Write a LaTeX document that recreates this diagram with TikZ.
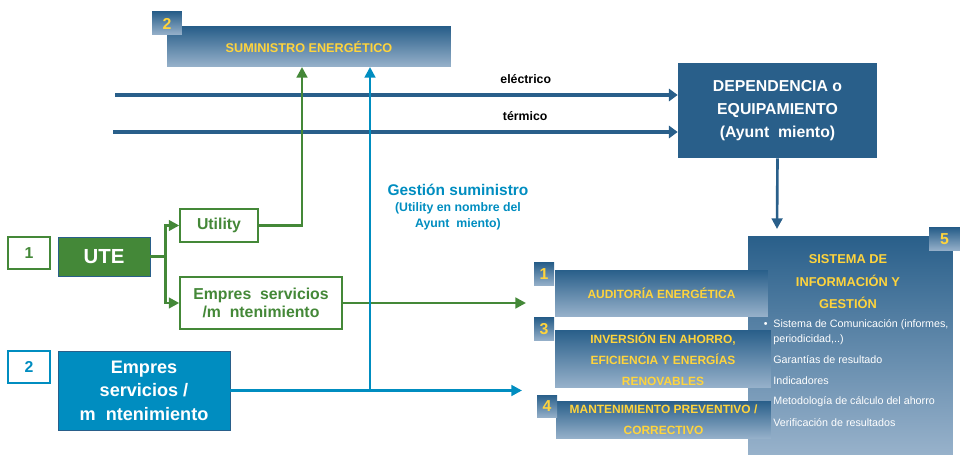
\documentclass[tikz,border=0pt]{standalone}
\usepackage{fontspec}
\setmainfont{Liberation Sans}
\usetikzlibrary{arrows.meta}

\definecolor{depblue}{RGB}{41,95,138}
\definecolor{lowblue}{RGB}{152,178,203}
\definecolor{gold}{RGB}{255,212,60}
\definecolor{utegreen}{RGB}{68,136,56}
\definecolor{empcyan}{RGB}{0,141,192}

\tikzset{
  fadebox/.style={top color=depblue, bottom color=lowblue, text=gold, align=center, inner sep=0pt,
    font=\bfseries\fontsize{6.8}{12}\selectfont},
  badge/.style={fadebox, font=\bfseries\fontsize{9}{9}\selectfont},
  numbox/.style={fill=white, line width=0.8pt, inner sep=0pt, minimum width=0.84cm, minimum height=0.64cm,
    font=\bfseries\fontsize{9}{9}\selectfont},
  greenbox/.style={draw=utegreen, fill=white, line width=0.8pt, text=utegreen, align=center, inner sep=0pt,
    font=\bfseries\fontsize{9}{10.5}\selectfont},
  item/.style={anchor=west, text=white, inner sep=0pt, font=\fontsize{6.1}{8.5}\selectfont},
  flow/.style={depblue, line width=2.2pt, -{Triangle[length=5pt,width=7pt]}},
  gline/.style={utegreen, line width=1.5pt},
  bline/.style={empcyan, line width=1.5pt},
  tip/.style={-{Triangle[length=6pt,width=6pt]}},
}

\begin{document}
\begin{tikzpicture}[x=0.02cm, y=-0.02cm]
    \useasboundingbox (0,0) rectangle (960,455);

    % top and right boxes
    \node[fadebox, minimum width=5.68cm, minimum height=0.8cm, font=\bfseries\fontsize{7.2}{9}\selectfont] (sumin) at (309,47) {SUMINISTRO ENERGÉTICO};
    \node[badge, minimum width=0.6cm, minimum height=0.46cm] (badgeS) at (167,23.5) {2};

    \node[fill=depblue, text=white, align=center, inner sep=0pt, minimum width=3.98cm, minimum height=1.9cm,
          font=\bfseries\fontsize{9}{13.3}\selectfont] (dep) at (777.5,110.5) {DEPENDENCIA o\\EQUIPAMIENTO\\(Ayunt\ \ miento)};

    \node[fadebox, minimum width=4.1cm, minimum height=4.38cm] (sis) at (850.5,345.5) {};
    \node[text=gold, align=center, inner sep=0pt, font=\bfseries\fontsize{7.3}{12.8}\selectfont] (sisT) at (848,282) {SISTEMA DE\\INFORMACIÓN Y\\GESTIÓN};
    \node[badge, minimum width=0.62cm, minimum height=0.46cm] (badgeE) at (944.5,239.5) {5};
    \node[item, anchor=east] (dot) at (768,325) {•};
    \node[item, anchor=north west, align=left] (item0) at (773,319) {Sistema de Comunicación (informes,\\periodicidad,..)};
    \foreach \y/\txt [count=\i] in {360/Garantías de resultado, 381/Indicadores, 402/Metodología de cálculo del ahorro, 423/Verificación de resultados}
        \node[item] (item\i) at (773,\y) {\txt};

    \node[fadebox, minimum width=4.26cm, minimum height=0.94cm] (aud) at (661.5,293.5) {AUDITORÍA ENERGÉTICA};
    \node[fadebox, minimum width=4.32cm, minimum height=1.16cm] (inv) at (663,359) {INVERSIÓN EN AHORRO,\\EFICIENCIA Y ENERGÍAS\\RENOVABLES};
    \node[fadebox, minimum width=4.3cm, minimum height=0.76cm] (man) at (663.5,420) {MANTENIMIENTO PREVENTIVO /\\CORRECTIVO};
    \node[badge, minimum width=0.4cm, minimum height=0.46cm] (badgeA) at (544,274.5) {1};
    \node[badge, minimum width=0.4cm, minimum height=0.46cm] (badgeI) at (544,329.5) {3};
    \node[badge, minimum width=0.4cm, minimum height=0.46cm] (badgeM) at (547,406.5) {4};

    % left side
    \node[numbox, draw=utegreen, text=utegreen] (num1) at (29,253) {1};
    \node[fill=utegreen, draw=depblue, line width=0.5pt, text=white, inner sep=0pt, minimum width=1.84cm, minimum height=0.78cm,
          font=\bfseries\fontsize{11.6}{12}\selectfont] (ute) at (104,256.5) {UTE};
    \node[greenbox, minimum width=1.56cm, minimum height=0.66cm] (util) at (219,225.5) {Utility};
    \node[greenbox, minimum width=3.24cm, minimum height=1.04cm] (empG) at (261,303) {Empres\ \ servicios\\/m\ \ ntenimiento};

    \node[numbox, draw=empcyan, text=empcyan] (num2) at (29,367) {2};
    \node[fill=empcyan, draw=depblue, line width=0.5pt, text=white, align=center, inner sep=0pt, minimum width=3.44cm, minimum height=1.58cm,
          font=\bfseries\fontsize{10.3}{13.3}\selectfont] (empB) at (144,390.5) {Empres\\servicios /\\m\ \ ntenimiento};

    \node[text=empcyan, align=center, inner sep=0pt, font=\bfseries\fontsize{7}{9}\selectfont] (gest) at (458,207)
        {{\fontsize{8.8}{9}\selectfont Gestión suministro}\\(Utility en nombre del\\Ayunt\ \ miento)};

    % flows
    \coordinate (elA) at (115,95);
    \coordinate (thA) at (113,132);
    \draw[flow] (elA) -- (elA -| dep.west) node[pos=0.73, above=2pt, black, font=\bfseries\fontsize{7}{8}\selectfont] (elec) {eléctrico};
    \draw[flow] (thA) -- (thA -| dep.west) node[pos=0.73, above=2pt, black, font=\bfseries\fontsize{7}{8}\selectfont] (term) {térmico};

    \coordinate (depEnd) at (777,229);
    \draw[depblue, line width=1.5pt, tip] (dep.south) -- (depEnd);

    \coordinate (sgIn) at (302,67);
    \coordinate (audIn) at (526,303);
    \draw[gline] (ute.east) -- ++(15,0) coordinate (fork);
    \draw[gline, tip] (fork) |- (util.west);
    \draw[gline, tip] (fork) |- (empG.west);
    \draw[gline, tip] (util.east) -| (sgIn);
    \draw[gline, tip] (empG.east) -- (audIn);

    \coordinate (sbIn) at (370,67);
    \coordinate (manIn) at (522,390.5);
    \draw[bline, tip] (empB.east) -- (manIn);
    \draw[bline, tip] (empB.east -| sbIn) -- (sbIn);

\end{tikzpicture}
\end{document}
